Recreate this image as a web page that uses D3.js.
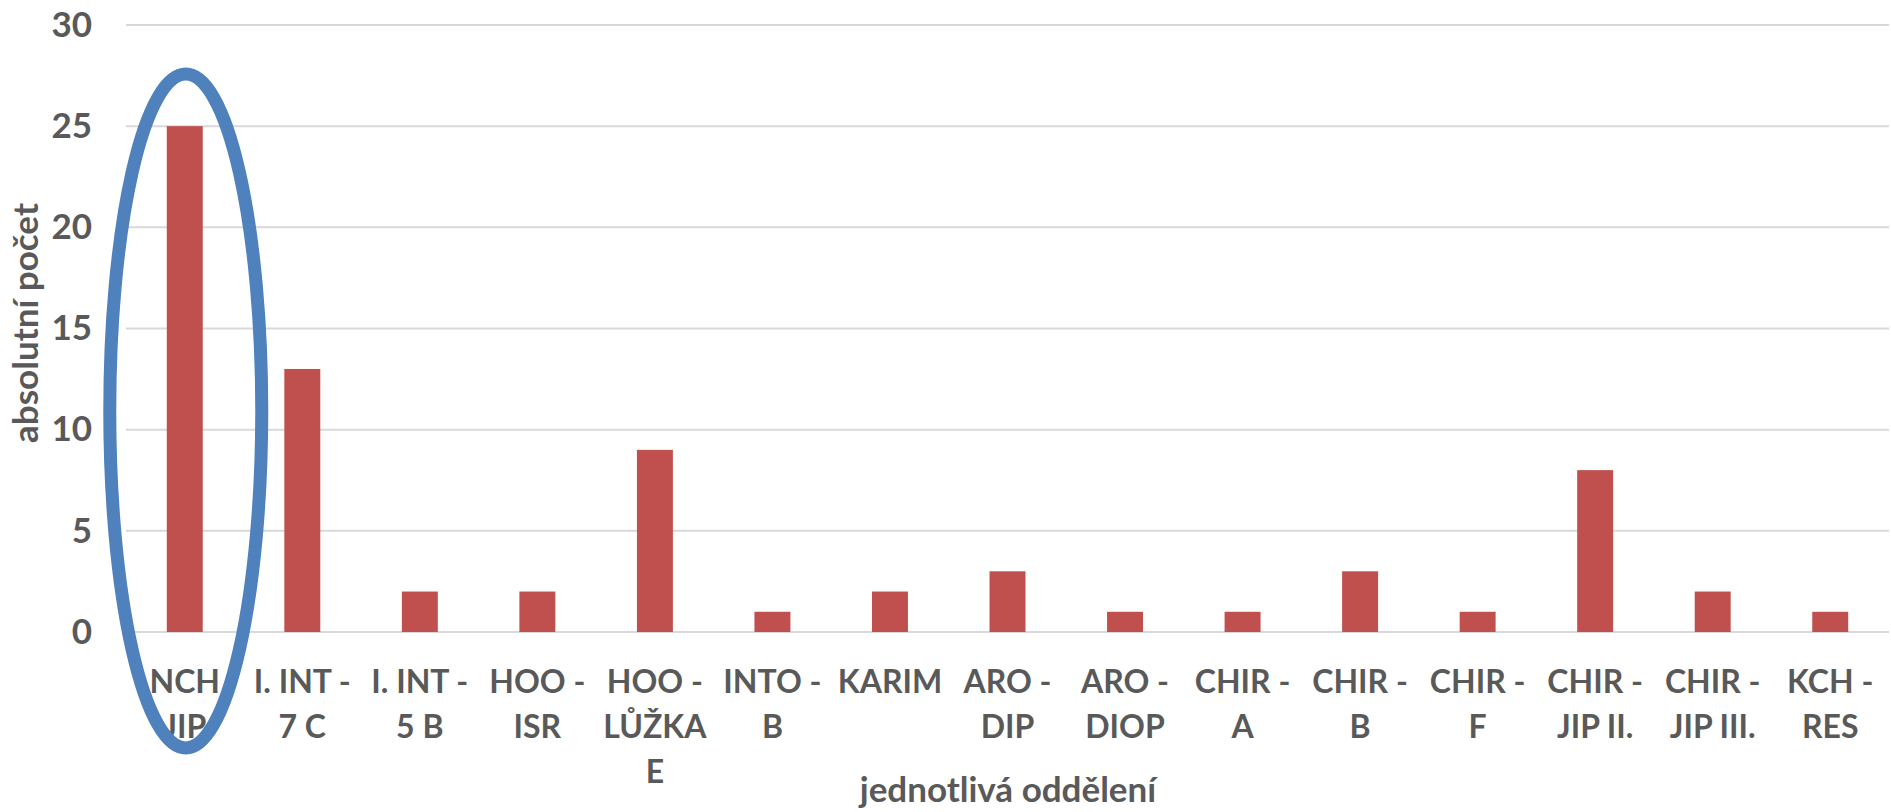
<!DOCTYPE html>
<html>
<head>
<meta charset="utf-8">
<script src="https://cdn.jsdelivr.net/npm/d3@7"></script>
<style>
  html, body { margin: 0; padding: 0; background: #fff; }
  svg { display: block; }
  text { font-family: Lato, "Open Sans", sans-serif; font-weight: 700; fill: #595959; }
</style>
</head>
<body>
<svg id="chart" width="1891" height="812"></svg>
<script>
// Departments (label lines separated by "|")
const categories = [
  "NCH|JIP", "I. INT -|7 C", "I. INT -|5 B", "HOO -|ISR", "HOO -|LŮŽKA|E",
  "INTO -|B", "KARIM", "ARO -|DIP", "ARO -|DIOP", "CHIR -|A",
  "CHIR -|B", "CHIR -|F", "CHIR -|JIP II.", "CHIR -|JIP III.", "KCH -|RES"
];
// Absolute counts per department
const counts = [25, 13, 2, 2, 9, 1, 2, 3, 1, 1, 3, 1, 8, 2, 1];
const yTicks = [0, 5, 10, 15, 20, 25, 30];
const xTitle = "jednotlivá oddělení";
const yTitle = "absolutní počet";
const highlighted = "NCH|JIP";

const svg = d3.select("#chart");
const plot = { left: 126, right: 1889, top: 25, bottom: 632 };

const x = d3.scaleBand().domain(categories).range([plot.left, plot.right]).padding(0);
const y = d3.scaleLinear().domain([0, 30]).range([plot.bottom, plot.top]);
const barW = x.bandwidth() * 0.306;

// Horizontal gridlines
svg.append("g").selectAll("line").data(yTicks).join("line")
  .attr("x1", plot.left).attr("x2", plot.right)
  .attr("y1", d => y(d)).attr("y2", d => y(d))
  .attr("stroke", "#d9d9d9").attr("stroke-width", 2);

// Y tick labels
const yAxis = d3.axisLeft(y).tickValues(yTicks).tickSize(0).tickPadding(0);
const gy = svg.append("g").attr("transform", `translate(${plot.left - 34},0)`).call(yAxis);
gy.select(".domain").remove();
gy.selectAll("text").attr("font-size", 35).attr("fill", "#595959")
  .style("font-family", "Lato, sans-serif").style("font-weight", 700);

// Bars
svg.append("g").selectAll("rect").data(counts).join("rect")
  .attr("x", (d, i) => x(categories[i]) + (x.bandwidth() - barW) / 2)
  .attr("y", d => y(d))
  .attr("width", barW)
  .attr("height", d => y(0) - y(d))
  .attr("fill", "#c0504d");

// Category labels (wrapped)
const xl = svg.append("g");
categories.forEach(c => {
  const t = xl.append("text")
    .attr("text-anchor", "middle")
    .attr("font-size", 32)
    .attr("x", x(c) + x.bandwidth() / 2)
    .attr("y", 693);
  c.split("|").forEach((line, j) => {
    t.append("tspan").attr("x", x(c) + x.bandwidth() / 2).attr("dy", j === 0 ? 0 : 45).text(line);
  });
});

// Axis titles
svg.append("text").attr("text-anchor", "middle").attr("font-size", 35)
  .attr("x", 1008).attr("y", 802).text(xTitle);
svg.append("text").attr("text-anchor", "middle").attr("font-size", 35)
  .attr("transform", "translate(38,323) rotate(-90)").text(yTitle);

// Highlight ellipse around the leading department
const hc = x(highlighted) + x.bandwidth() / 2;
svg.append("ellipse")
  .attr("cx", hc + 1).attr("cy", 411)
  .attr("rx", 76).attr("ry", 337)
  .attr("fill", "none").attr("stroke", "#4f81bd").attr("stroke-width", 13);
</script>
</body>
</html>
